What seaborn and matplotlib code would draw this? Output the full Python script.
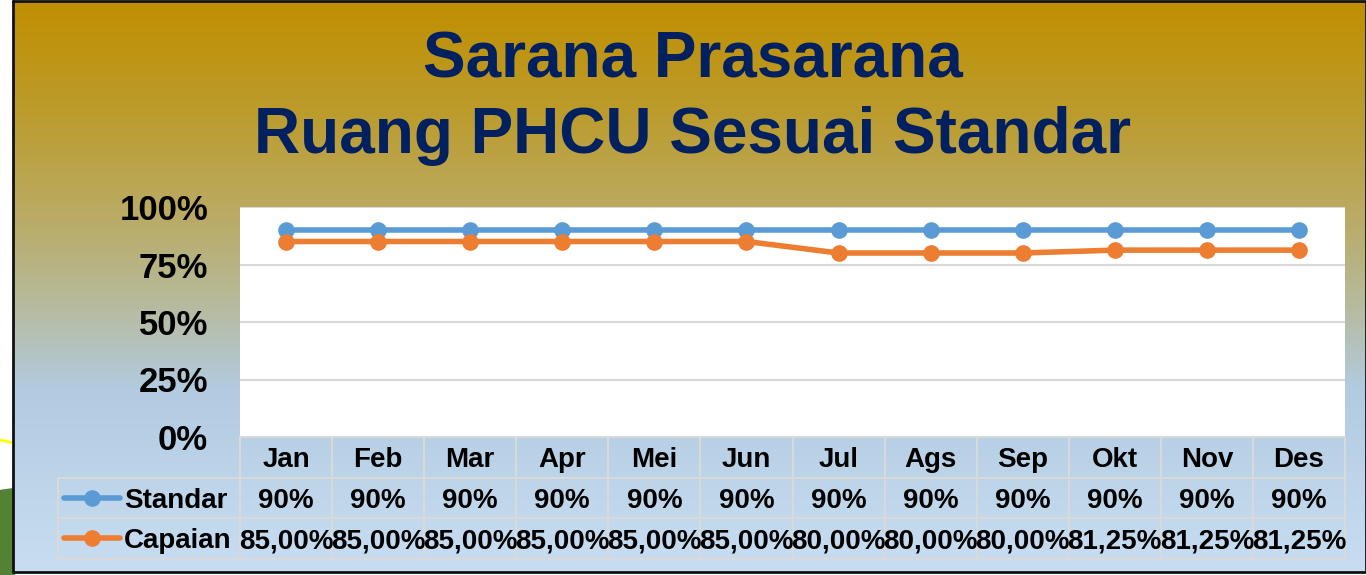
import numpy as np
import pandas as pd
import matplotlib
matplotlib.use("Agg")
import matplotlib.pyplot as plt
import matplotlib.transforms as mtransforms
from matplotlib.colors import LinearSegmentedColormap
import seaborn as sns

# ---- data ----
months = ["Jan", "Feb", "Mar", "Apr", "Mei", "Jun", "Jul", "Ags", "Sep", "Okt", "Nov", "Des"]
standar = [0.90, 0.90, 0.90, 0.90, 0.90, 0.90, 0.90, 0.90, 0.90, 0.90, 0.90, 0.90]
capaian = [0.85, 0.85, 0.85, 0.85, 0.85, 0.85, 0.80, 0.80, 0.80, 0.8125, 0.8125, 0.8125]
standar_labels = ["90%"] * 12
capaian_labels = ["85,00%", "85,00%", "85,00%", "85,00%", "85,00%", "85,00%",
                  "80,00%", "80,00%", "80,00%", "81,25%", "81,25%", "81,25%"]
series_names = ["Standar", "Capaian"]
yticks = [0, 0.25, 0.5, 0.75, 1.0]
ytick_labels = ["0%", "25%", "50%", "75%", "100%"]

blue = "#5B9BD5"
orange = "#ED7D31"
navy = "#002060"
grid_c = "#D9D9D9"

sns.set_theme(style="white")
plt.rcParams["font.family"] = ["Liberation Sans", "DejaVu Sans"]

W, H = 1366, 575
fig = plt.figure(figsize=(W / 100, H / 100), dpi=100)
fig.patch.set_facecolor("white")

# ---- slide decoration + gradient background ----
deco = fig.add_axes([0, 0, 1, 1])
deco.set_xlim(0, W)
deco.set_ylim(H, 0)
deco.axis("off")
deco.fill_between([0, 14], [490, 488], [H, H], color="#548235", zorder=0)
deco.plot([0, 14], [440, 443], color="#FFFF00", lw=2, zorder=0)

grad = LinearSegmentedColormap.from_list(
    "bg", [(0.0, "#C08F00"), (0.2, "#BC9C2E"), (0.38, "#BAAB66"),
           (0.52, "#B7B998"), (0.68, "#B2CBE0"), (1.0, "#C8DDF2")])
deco.imshow(np.linspace(0, 1, 256).reshape(-1, 1), cmap=grad, aspect="auto",
            extent=[13, W, 572, 1], zorder=1)
deco.plot([13, W, W, 13, 13], [1, 1, 572, 572, 1], color="#111111", lw=2, zorder=2)

# ---- title ----
tx = 693 / W
fig.text(tx, 1 - 61 / H, "Sarana Prasarana", ha="center", va="center",
         fontsize=46, fontweight="bold", color=navy)
fig.text(tx, 1 - 136 / H, "Ruang PHCU Sesuai Standar", ha="center", va="center",
         fontsize=46, fontweight="bold", color=navy)

# ---- line chart ----
ax = fig.add_axes([240 / W, 138 / H, 1105 / W, 230 / H])
ax.set_facecolor("white")
df = pd.DataFrame({
    "idx": list(range(len(months))) * 2,
    "value": standar + capaian,
    "series": [series_names[0]] * len(months) + [series_names[1]] * len(months),
})
sns.lineplot(data=df, x="idx", y="value", hue="series", palette=[blue, orange],
             marker="o", markersize=12, markeredgewidth=0, linewidth=4,
             legend=False, ax=ax, zorder=3)
ax.set_xlim(-0.5, len(months) - 0.5)
ax.set_ylim(0, 1)
ax.set_yticks(yticks)
ax.set_yticklabels(ytick_labels, fontsize=25, fontweight="bold", color="black")
ax.tick_params(axis="y", length=0, pad=23)
ax.set_xticks([])
ax.set_xlabel("")
ax.set_ylabel("")
for y in yticks[1:]:
    ax.axhline(y, color=grid_c, lw=1.5, zorder=1)
for s in ax.spines.values():
    s.set_visible(False)

# ---- data table under the axes ----
tr = mtransforms.blended_transform_factory(ax.transData, ax.transAxes)
rh = 40.5 / 230
n = len(months)
left_x = -0.5 - 182 / (1105 / n)
tbl_kw = dict(transform=tr, clip_on=False, color=grid_c, lw=1.5, zorder=2)
ax.plot([-0.5, n - 0.5], [0, 0], **tbl_kw)
for k in range(1, 4):
    ax.plot([left_x, n - 0.5], [-k * rh, -k * rh], **tbl_kw)
for i in range(n + 1):
    ax.plot([i - 0.5, i - 0.5], [0, -3 * rh], **tbl_kw)
ax.plot([left_x, left_x], [-rh, -3 * rh], **tbl_kw)

shift = 3 / 230
txt_kw = dict(transform=tr, ha="center", va="center", fontsize=20,
              fontweight="bold", color="black", clip_on=False)
for i, m in enumerate(months):
    ax.text(i, -0.5 * rh - shift, m, **txt_kw)
    ax.text(i, -1.5 * rh - shift, standar_labels[i], **txt_kw)
    ax.text(i, -2.5 * rh - shift, capaian_labels[i], **txt_kw)

px = 1105 / n
for r, (name, col) in enumerate(zip(series_names, [blue, orange])):
    yy = -(1.5 + r) * rh
    x0 = left_x + 6 / px
    x1 = left_x + 62 / px
    ax.plot([x0, x1], [yy, yy], transform=tr, clip_on=False, color=col, lw=4,
            solid_capstyle="round")
    ax.plot([(x0 + x1) / 2], [yy], transform=tr, clip_on=False, marker="o",
            markersize=12, markeredgewidth=0, color=col)
    ax.text(left_x + 66 / px, yy - shift, name, transform=tr, ha="left", va="center",
            fontsize=20, fontweight="bold", color="black", clip_on=False)

fig.savefig("out.png", dpi=100)
